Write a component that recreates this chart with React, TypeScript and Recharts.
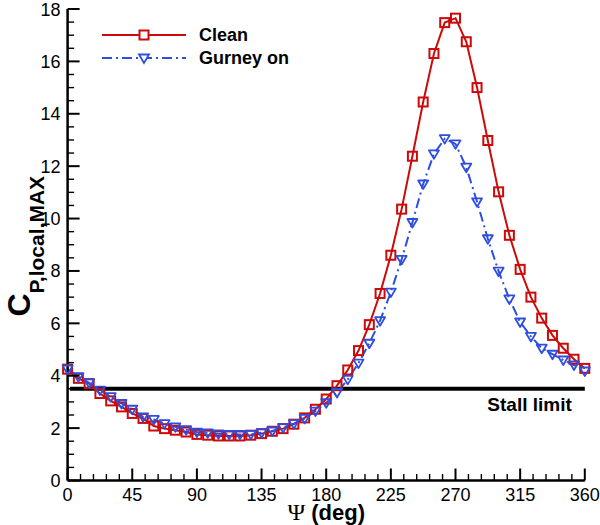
import React from 'react';
import { LineChart, Line, XAxis, YAxis, ReferenceLine, Legend, Label } from 'recharts';

const psi = [
  0, 7.5, 15, 22.5, 30, 37.5, 45, 52.5, 60, 67.5, 75, 82.5, 90, 97.5, 105, 112.5, 120,
  127.5, 135, 142.5, 150, 157.5, 165, 172.5, 180, 187.5, 195, 202.5, 210, 217.5, 225,
  232.5, 240, 247.5, 255, 262.5, 270, 277.5, 285, 292.5, 300, 307.5, 315, 322.5, 330,
  337.5, 345, 352.5, 360,
];

const clean = [
  4.25, 3.9, 3.7, 3.32, 3.04, 2.81, 2.56, 2.37, 2.08, 1.98,
  1.92, 1.85, 1.76, 1.73, 1.7, 1.7, 1.7, 1.73, 1.79, 1.88,
  1.98, 2.15, 2.39, 2.72, 3.11, 3.62, 4.22, 4.96, 5.95, 7.14,
  8.6, 10.36, 12.38, 14.45, 16.3, 17.48, 17.65, 16.75, 15.0, 12.98,
  11.02, 9.36, 8.06, 7.0, 6.2, 5.54, 5.05, 4.63, 4.28,
];

const gurney = [
  4.25, 3.96, 3.73, 3.45, 3.2, 2.94, 2.72, 2.43, 2.33, 2.17,
  2.05, 1.94, 1.85, 1.82, 1.78, 1.76, 1.76, 1.76, 1.82, 1.89,
  2.02, 2.17, 2.37, 2.65, 2.97, 3.36, 3.86, 4.48, 5.24, 6.1,
  7.19, 8.44, 9.85, 11.32, 12.47, 13.05, 12.85, 11.96, 10.64, 9.23,
  7.99, 6.93, 6.05, 5.5, 5.05, 4.82, 4.6, 4.41, 4.18,
];

const seriesNames = ['Clean', 'Gurney on'];
const xMajorTicks = [0, 45, 90, 135, 180, 225, 270, 315, 360];
const yMajorTicks = [0, 2, 4, 6, 8, 10, 12, 14, 16, 18];
const xMinorStep = 9;
const yMinorStep = 0.5;
const stallLimit = 3.5;
const stallStart = 1.7;
const stallLabel = 'Stall limit';

const xTicks = Array.from({ length: 360 / xMinorStep + 1 }, (_, i) => i * xMinorStep);
const yTicks = Array.from({ length: 18 / yMinorStep + 1 }, (_, i) => i * yMinorStep);

const data = psi.map((p, i) => ({ psi: p, clean: clean[i], gurney: gurney[i] }));

const RED = '#cc0a0a';
const BLUE = '#2e4ee0';
const SANS = '"Liberation Sans", Arial, Helvetica, sans-serif';

const SquareDot = (props: any) => {
  const { cx, cy, index } = props;
  if (cx == null || cy == null) return null;
  return (
    <rect key={`sq-${index}`} x={cx - 4.5} y={cy - 4.5} width={9} height={9}
      fill="none" stroke={RED} strokeWidth={2} />
  );
};

const TriDot = (props: any) => {
  const { cx, cy, index } = props;
  if (cx == null || cy == null) return null;
  return (
    <path key={`tr-${index}`} d={`M${cx - 5},${cy - 3.5} L${cx + 5},${cy - 3.5} L${cx},${cy + 5} Z`}
      fill="none" stroke={BLUE} strokeWidth={1.8} strokeLinejoin="round" />
  );
};

const XTick = (props: any) => {
  const { x, y, payload } = props;
  const v = payload.value;
  const major = xMajorTicks.includes(v);
  return (
    <g>
      <line x1={x} x2={x} y1={y} y2={y - (major ? 12 : 6.5)} stroke="#000" strokeWidth={major ? 2 : 1.4} />
      {major && (
        <text x={x} y={y + 20} textAnchor="middle" fontFamily={SANS} fontSize={18} fill="#000">{v}</text>
      )}
    </g>
  );
};

const YTick = (props: any) => {
  const { x, y, payload } = props;
  const v = payload.value;
  const major = yMajorTicks.includes(v);
  return (
    <g>
      <line x1={x} x2={x + (major ? 12 : 6.5)} y1={y} y2={y} stroke="#000" strokeWidth={major ? 2 : 1.4} />
      {major && (
        <text x={x - 7} y={y + 6.5} textAnchor="end" fontFamily={SANS} fontSize={18} fill="#000">{v}</text>
      )}
    </g>
  );
};

const renderLegend = () => (
  <svg width={240} height={60} style={{ display: 'block', overflow: 'visible' }}>
    <line x1={7} x2={91} y1={17} y2={17} stroke={RED} strokeWidth={2} />
    <rect x={44.5} y={12.5} width={9} height={9} fill="#fff" stroke={RED} strokeWidth={2} />
    <text x={104} y={23} fontFamily={SANS} fontWeight="bold" fontSize={18} fill="#000">{seriesNames[0]}</text>
    <line x1={7} x2={91} y1={40} y2={40} stroke={BLUE} strokeWidth={2} strokeDasharray="10 4 2 4" />
    <path d={`M44,36.5 L54,36.5 L49,45 Z`} fill="#fff" stroke={BLUE} strokeWidth={1.8} />
    <text x={104} y={46} fontFamily={SANS} fontWeight="bold" fontSize={18} fill="#000">{seriesNames[1]}</text>
  </svg>
);

const YLabel = (p: any) => {
  const vb = p.viewBox || { x: 0, y: 9, width: 67.6, height: 471.5 };
  const cx = vb.x + 29.5;
  const cy = vb.y + vb.height / 2 + 1.5;
  return (
    <text x={cx} y={cy} transform={`rotate(-90 ${cx} ${cy})`} textAnchor="middle"
      fontFamily={SANS} fontWeight="bold" fill="#000">
      <tspan fontSize={32}>C</tspan>
      <tspan fontSize={21} dy={14}>P,local,MAX</tspan>
    </text>
  );
};

const XLabel = (p: any) => {
  const vb = p.viewBox || { x: 67.6, y: 480.5, width: 517, height: 44.5 };
  const cx = vb.x + vb.width / 2;
  return (
    <text x={cx} y={vb.y + 39} textAnchor="middle" fill="#000" fontSize={22}>
      <tspan fontFamily='"Liberation Serif", "DejaVu Serif", serif' fontSize={24}>Ψ</tspan>
      <tspan fontFamily={SANS} fontWeight="bold"> (deg)</tspan>
    </text>
  );
};

const StallText = (p: any) => {
  const vb = p.viewBox || { x: 70, y: 387.5, width: 515, height: 0 };
  return (
    <text x={vb.x + vb.width - 13} y={vb.y + 22.5} textAnchor="end" fontFamily={SANS}
      fontWeight="bold" fontSize={19} fill="#000">{stallLabel}</text>
  );
};

export default function App() {
  return (
    <div style={{ width: 600, height: 525 }}>
      <style>{`body{margin:0}`}</style>
      <LineChart width={600} height={525} data={data}
        margin={{ top: 9, right: 15.2, bottom: 0, left: 0 }}>
        <XAxis dataKey="psi" type="number" domain={[0, 360]} ticks={xTicks} interval={0}
          tickSize={0} tickMargin={0} tickLine={false} tick={(props: any) => <XTick {...props} />}
          height={44.5} axisLine={{ stroke: '#000', strokeWidth: 2.5 }} allowDecimals>
          <Label content={XLabel} />
        </XAxis>
        <YAxis type="number" domain={[0, 18]} ticks={yTicks} interval={0}
          tickSize={0} tickMargin={0} tickLine={false} tick={(props: any) => <YTick {...props} />}
          width={67.6} axisLine={{ stroke: '#000', strokeWidth: 2.5 }}>
          <Label content={YLabel} />
        </YAxis>
        <ReferenceLine segment={[{ x: stallStart, y: stallLimit }, { x: 360, y: stallLimit }]}
          stroke="#000" strokeWidth={4} ifOverflow="visible" label={<StallText />} />
        <Line dataKey="clean" name={seriesNames[0]} type="linear" stroke={RED} strokeWidth={2}
          dot={SquareDot} activeDot={false} isAnimationActive={false} />
        <Line dataKey="gurney" name={seriesNames[1]} type="linear" stroke={BLUE} strokeWidth={2}
          strokeDasharray="10 4 2 4" dot={TriDot} activeDot={false} isAnimationActive={false} />
        <Legend layout="vertical" align="center" verticalAlign="middle" content={renderLegend}
          wrapperStyle={{ position: 'absolute', left: 95, top: 18, width: 240, height: 60 }} />
      </LineChart>
    </div>
  );
}
